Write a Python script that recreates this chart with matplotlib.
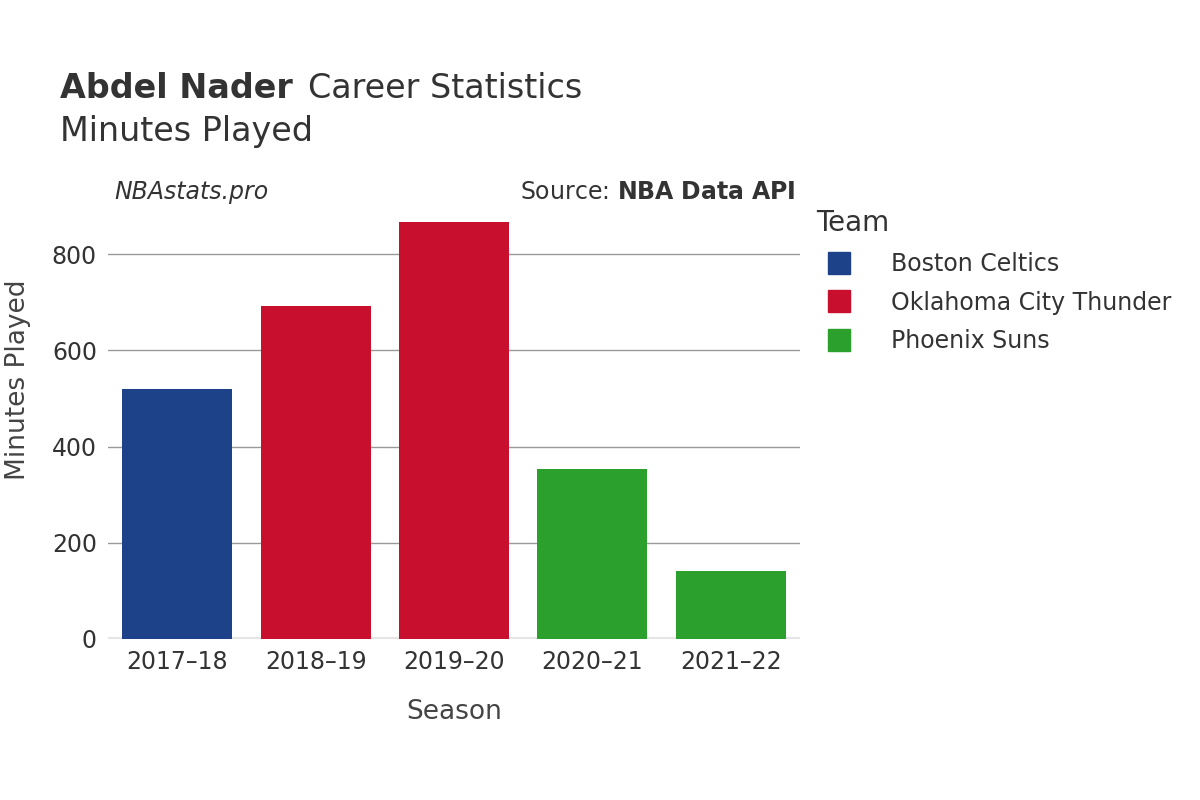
import matplotlib
matplotlib.use("Agg")
import matplotlib.pyplot as plt
from matplotlib.lines import Line2D

seasons = ["2017–18", "2018–19", "2019–20", "2020–21", "2021–22"]
minutes = [520, 692, 866, 353, 141]
teams = ["Boston Celtics", "Oklahoma City Thunder", "Oklahoma City Thunder", "Phoenix Suns", "Phoenix Suns"]
team_order = ["Boston Celtics", "Oklahoma City Thunder", "Phoenix Suns"]
colors = {"Boston Celtics": "#1d4289", "Oklahoma City Thunder": "#c8102e", "Phoenix Suns": "#2ca02c"}

fig = plt.figure(figsize=(12, 8), dpi=100)
ax = fig.add_axes([0.09, 0.20125, 0.5767, 0.5425])
x = range(len(seasons))
ax.bar(x, minutes, width=0.795, color=[colors[t] for t in teams], zorder=3)
ax.set_xlim(-0.5, 4.5)
ax.set_ylim(0, 902)
ax.set_yticks([0, 200, 400, 600, 800])
ax.set_xticks(list(x))
ax.set_xticklabels(seasons)
ax.grid(axis="y", color="#999999", linewidth=1, zorder=0)
for s in ax.spines.values():
    s.set_visible(False)
ax.axhline(0, color="#e5e5e5", linewidth=3, zorder=2)
ax.tick_params(length=0, labelsize=17, colors="#333333", pad=8)
ax.set_xlabel("Season", fontsize=19, color="#444444", labelpad=18)
fig.text(0.015, 0.525, "Minutes Played", fontsize=19, color="#444444", rotation=90, va="center", ha="center")

fig.text(0.05, 0.889, "Abdel Nader", fontsize=24, fontweight="bold", color="#333333", va="center")
fig.text(0.257, 0.889, "Career Statistics", fontsize=24, color="#333333", va="center")
fig.text(0.05, 0.835, "Minutes Played", fontsize=24, color="#333333", va="center")
fig.text(0.095, 0.76, "NBAstats.pro", fontsize=17, style="italic", color="#333333", va="center")
fig.text(0.663, 0.76, "Source: $\\bf{NBA\\ Data\\ API}$", fontsize=17, color="#333333", va="center", ha="right")

handles = [Line2D([], [], marker="s", linestyle="none", markersize=16, color=colors[t], label=t) for t in team_order]
leg = fig.legend(handles=handles, loc="upper left", bbox_to_anchor=(0.672, 0.75), frameon=False,
                 fontsize=17, title="Team", title_fontsize=20, handletextpad=1.2,
                 labelspacing=0.62, alignment="left", borderaxespad=0)
for t in leg.get_texts():
    t.set_color("#333333")
leg.get_title().set_color("#333333")
fig.savefig("out.png", dpi=100)
